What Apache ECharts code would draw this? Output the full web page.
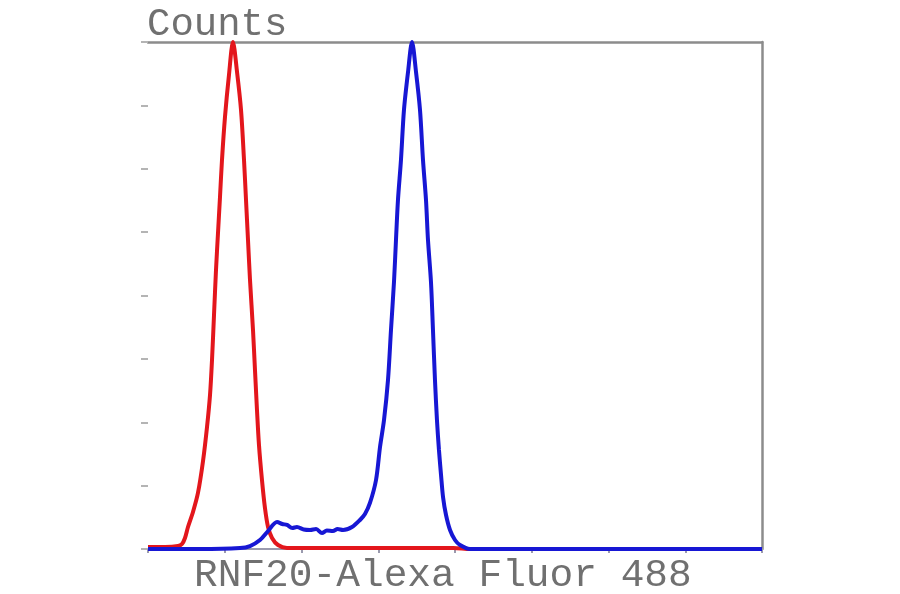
<!DOCTYPE html>
<html>
<head>
<meta charset="utf-8">
<script src="https://cdn.jsdelivr.net/npm/echarts@6/dist/echarts.min.js"></script>
<style>
html,body{margin:0;padding:0;background:#fff;}
#chart{width:900px;height:594px;}
</style>
</head>
<body>
<div id="chart"></div>
<script>
// Fluorescence channel (arbitrary units, 0-800) and counts (0-800)
var redX  = [0, 22.1, 39.1, 44.3, 48.2, 52.1, 58.6, 65.1, 71.7, 76.9, 80.8, 83.4, 86.0, 88.6, 91.2, 93.8, 96.4, 100.3, 105.5, 110.7,
             116.0, 121.2, 125.1, 127.7, 130.3, 132.9, 136.8, 139.4, 142.0, 144.6, 148.5, 152.4, 156.4, 161.6, 169.4, 181.1, 398, 420, 800];
var redY  = [3.2, 3.2, 4.7, 7.9, 17.4, 34.7, 58.4, 88.4, 138.9, 192.5, 243.0, 298.2, 369.2, 440.2, 498.6, 555.4, 613.8, 681.7, 747.9, 800,
             752.7, 692.7, 613.8, 550.7, 487.6, 424.5, 345.6, 282.4, 219.3, 164.1, 108.9, 64.7, 34.7, 17.4, 6.3, 1.6, 1.6, 0, 0];
var blueX = [0, 67.7, 119.9, 132.9, 145.9, 156.4, 168.1, 175.0, 181.1, 188.0, 194.1, 203.0, 211.1, 219.0, 226.7, 233.0, 241.0, 247.0, 254.1, 265.8,
             276.2, 282.7, 289.2, 297.1, 302.3, 307.5, 312.7, 316.6, 320.5, 323.1, 325.7, 329.6, 333.5, 338.8, 344.0,
             349.2, 354.4, 358.3, 362.2, 364.8, 368.7, 371.3, 373.9, 376.5, 379.1, 381.8, 384.4, 388.3, 393.5, 400.0, 406.5, 419.5, 458.6, 800];
var blueY = [0, 0, 1.6, 4.7, 14.2, 28.4, 42.6, 39.5, 37.9, 33.2, 34.7, 30.8, 30.0, 31.6, 25.2, 29.2, 28.4, 31.6, 30.0, 34.7,
             45.8, 55.2, 72.6, 108.9, 161.0, 203.5, 266.7, 345.6, 421.3, 487.6, 550.7, 613.8, 692.7, 752.7, 800,
             752.7, 692.7, 613.8, 550.7, 487.6, 421.3, 345.6, 266.7, 203.5, 156.2, 116.8, 82.1, 53.6, 30.0, 14.2, 6.3, 0, 0, 0];
var yLabel = "Counts";
var xLabel = "RNF20-Alexa Fluor 488";

function zip(a, b) { return a.map(function (v, i) { return [v, b[i]]; }); }

var chart = echarts.init(document.getElementById('chart'), null, {renderer: 'canvas'});
var gray = '#8c8c8c';
var font = "'Courier New', 'Liberation Mono', monospace";
chart.setOption({
  animation: false,
  backgroundColor: '#ffffff',
  grid: {left: 148, top: 42, width: 614, height: 507},
  xAxis: [
    {type: 'value', min: 0, max: 800, interval: 100, position: 'bottom',
     axisLine: {show: true, onZero: false, lineStyle: {color: '#9a9aae', width: 2}},
     axisTick: {show: true, length: 4, lineStyle: {color: '#9a9aae', width: 2}},
     axisLabel: {show: false}, splitLine: {show: false}},
    {type: 'value', min: 0, max: 800, position: 'top',
     axisLine: {show: true, onZero: false, lineStyle: {color: gray, width: 2.5}},
     axisTick: {show: false}, axisLabel: {show: false}, splitLine: {show: false}}
  ],
  yAxis: [
    {type: 'value', min: 0, max: 800, interval: 100, position: 'left',
     axisLine: {show: false, onZero: false},
     axisTick: {show: true, length: 7, lineStyle: {color: '#b4b4b4', width: 2}},
     axisLabel: {show: false}, splitLine: {show: false}},
    {type: 'value', min: 0, max: 800, position: 'right',
     axisLine: {show: true, onZero: false, lineStyle: {color: gray, width: 2.5}},
     axisTick: {show: false}, axisLabel: {show: false}, splitLine: {show: false}}
  ],
  graphic: [
    {type: 'text', left: 147, top: 5, style: {text: yLabel, font: "39px " + font, fill: '#707070'}},
    {type: 'text', left: 194, top: 556, style: {text: xLabel, font: "39.5px " + font, fill: '#707070'}}
  ],
  series: [
    {type: 'line', data: zip(redX, redY), showSymbol: false, smooth: 0.3,
     lineStyle: {color: '#e3161c', width: 4}, z: 3},
    {type: 'line', data: zip(blueX, blueY), showSymbol: false, smooth: 0.3,
     lineStyle: {color: '#1717d4', width: 4}, z: 4}
  ]
});
</script>
</body>
</html>
